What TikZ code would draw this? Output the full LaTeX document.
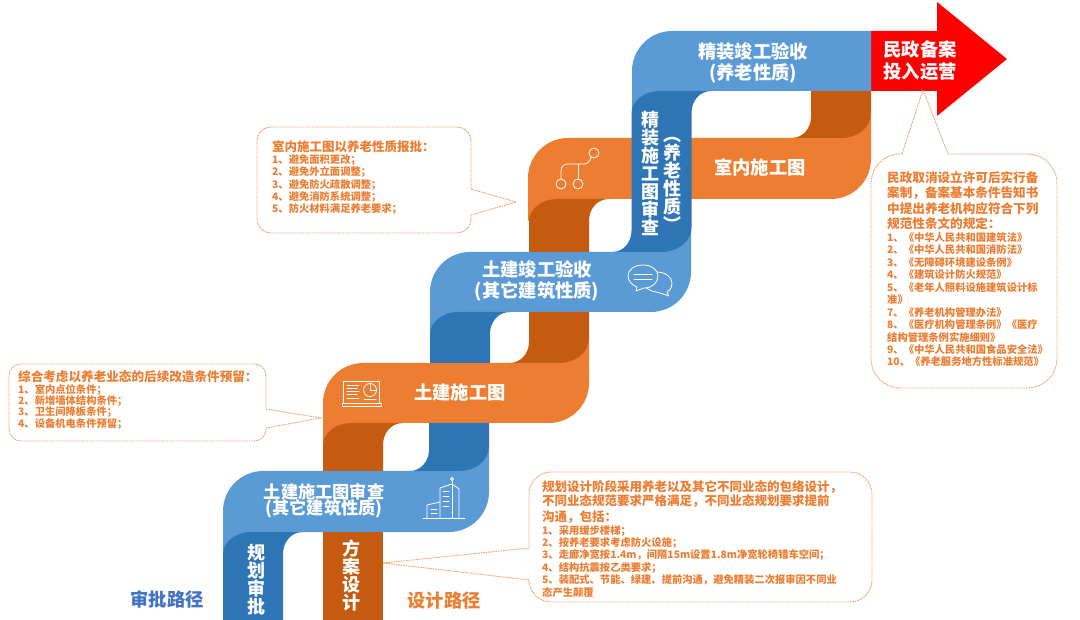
\documentclass[tikz,border=0pt]{standalone}
\usepackage{fontspec}
\setmainfont{Noto Sans CJK SC}
\definecolor{lblue}{HTML}{5B9BD5}
\definecolor{dblue}{HTML}{2E75B6}
\definecolor{lor}{HTML}{ED7D31}
\definecolor{dor}{HTML}{C55A11}
\definecolor{pathblue}{HTML}{4472C4}
\definecolor{dashcol}{HTML}{F2A06E}
\newcommand{\fs}[1]{\fontsize{#1}{#1}\selectfont\bfseries}
% light band: L R T B
\newcommand{\band}[5]{\fill[#1] (#2,#5+22) -- (#2,#4+40) .. controls (#2,#4+18) and (#2+18,#4) .. (#2+40,#4)
  -- (#3-30,#4) -- (#3,#4-25) -- (#3,#5-40) .. controls (#3,#5-18) and (#3-18,#5) .. (#3-40,#5) -- (#2+28,#5) -- cycle;}
% dark segments: colour x yT yB
\newcommand{\segTA}[4]{\fill[#1] (#2,#3+22) .. controls (#2,#3+10) and (#2+13,#3) .. (#2+28,#3) -- (#2+80,#3)
  .. controls (#2+68,#3) and (#2+60,#3+10) .. (#2+60,#3+22) -- (#2+60,#4) -- (#2,#4) -- cycle;}
\newcommand{\segAB}[4]{\fill[#1] (#2,#3) -- (#2+60,#3) -- (#2+60,#4-25) .. controls (#2+60,#4-10) and (#2+46,#4) .. (#2+30,#4)
  -- (#2-19,#4) .. controls (#2-9,#4) and (#2,#4-9) .. (#2,#4-21) -- cycle;}
\newcommand{\segTB}[4]{\fill[#1] (#2,#3+22) .. controls (#2,#3+10) and (#2+13,#3) .. (#2+28,#3) -- (#2+80,#3)
  .. controls (#2+68,#3) and (#2+60,#3+10) .. (#2+60,#3+22) -- (#2+60,#4-25) .. controls (#2+60,#4-10) and (#2+46,#4) .. (#2+30,#4)
  -- (#2-19,#4) .. controls (#2-9,#4) and (#2,#4-9) .. (#2,#4-21) -- cycle;}
\tikzset{
  whitelabel/.style={inner sep=0pt,text=white,align=center,font=\fs{18.3}},
  vertlabel/.style={inner sep=0pt,text=white,align=center,font=\fs{18}},
  calltitle/.style={inner sep=0pt,anchor=west,text=lor,font=\fs{12.5}},
  callitem/.style={inner sep=0pt,anchor=west,text=lor,font=\fs{10.3}},
  callout/.style={draw=dashcol,line width=0.9pt,dash pattern=on 1.6pt off 0.9pt,fill=white},
  icon/.style={draw=white,line width=0.8pt,line cap=round,line join=round},
}
\begin{document}
\begin{tikzpicture}[x=1pt,y=-1pt]
\useasboundingbox (0,0) rectangle (1080,620);
\fill[white] (0,0) rectangle (1080,620);
% arrow
\fill[red] (871,31) -- (937,31) -- (937,2) -- (1007,59) -- (937,116) -- (937,91) -- (871,91) -- cycle;
% bands
\band{lblue}{223}{489}{471}{532}
\band{lor}{323}{589}{363}{423}
\band{lblue}{430}{691}{252}{312}
\band{lor}{528}{871}{138}{199}
\fill[lblue] (632,113) -- (632,71) .. controls (632,49) and (650,31) .. (672,31) -- (871,31) -- (871,91) -- (660,91) -- cycle;
% dark segments
\segTA{dblue}{223}{532}{620}
\fill[dor] (323,532) rectangle (383,620);
\segTA{dor}{323}{423}{471}
\segAB{dblue}{429}{423}{471}
\segTA{dblue}{430}{312}{363}
\segAB{dor}{529}{312}{363}
\segTA{dor}{529}{199}{252}
\segTB{dblue}{631.5}{91}{252}
\segAB{dor}{811}{91}{138}
% band labels
\node[whitelabel] (t1) at (753,52) {精装竣工验收};
\node[whitelabel] (t2) at (753,73) {(养老性质)};
\node[whitelabel] (t3) at (920,50) {民政备案};
\node[whitelabel] (t4) at (920,72) {投入运营};
\node[whitelabel] (t5) at (760,167) {室内施工图};
\node[whitelabel] (t6) at (537,269) {土建竣工验收};
\node[whitelabel] (t7) at (537,291) {(其它建筑性质)};
\node[whitelabel] (t8) at (460,393) {土建施工图};
\node[whitelabel,font=\fs{17.2}] (t9) at (324,492) {土建施工图审查};
\node[whitelabel,font=\fs{17.2}] (t10) at (324,509) {(其它建筑性质)};
\node[vertlabel] (v1) at (650,173.5) {精\\装\\施\\工\\图\\审\\查};
\node[vertlabel] (v2) at (672,184) {︵\\养\\老\\性\\质\\︶};
\node[vertlabel] (v3) at (256,580) {规\\划\\审\\批};
\node[vertlabel] (v4) at (351,575.5) {方\\案\\设\\计};
\node[inner sep=0pt,text=pathblue,font=\fs{18.3}] (p1) at (167,599) {审批路径};
\node[inner sep=0pt,text=lor,font=\fs{18.3}] (p2) at (444,601) {设计路径};
% icon: flow
\draw[icon] (594,153) circle (5) (561,184) circle (5) (578,184) circle (5);
\draw[icon] (578,179) -- (578,164);
\draw[icon] (561,179) -- (561,171) .. controls (561,166) and (564,164) .. (568,164) -- (584,164) .. controls (588,164) and (590,161) .. (591,157);
% icon: chat
\draw[icon] (643,265) .. controls (634,265) and (628,270) .. (628,276) .. controls (628,281) and (632,285) .. (637,287) -- (636,291) -- (644,288) .. controls (652,288) and (658,283) .. (658,276) .. controls (658,270) and (652,265) .. (643,265) -- cycle;
\draw[icon] (634,274) -- (652,274) (634,279) -- (652,279);
\draw[icon] (657,272) .. controls (665,272) and (672,277) .. (672,283) .. controls (672,288) and (669,291) .. (667,292) -- (669,296) -- (660,293) -- (652,291) -- (646,288);
% icon: laptop
\draw[icon] (343,403) -- (343,381) -- (379,381) -- (379,403);
\draw[icon] (342,403) -- (381,403) -- (381,406) -- (342,406) -- cycle;
\draw[icon] (370,390) circle (6.5);
\draw[icon] (370,384) -- (370,390) -- (376,390);
\draw[icon,line width=0.6pt] (347,385) -- (359,385) (347,388) -- (357,388) (347,391) -- (359,391) (347,394) -- (357,394) (347,398) -- (359,398) (364,399) -- (376,399);
% icon: building
\draw[icon] (423,518) -- (465,518);
\draw[icon] (440,518) -- (440,488) -- (452,484) -- (459,489) -- (459,518);
\draw[icon] (452,484) -- (452,518);
\draw[icon] (452,483) -- (452,481);
\draw[icon] (452,479) circle (1.5);
\draw[icon] (427,518) -- (427,505) -- (440,502);
\draw[icon,line width=0.6pt] (443,491) -- (449,491) (443,496) -- (449,496) (443,501) -- (449,501) (443,506) -- (449,506) (431,509) -- (437,509) (431,513) -- (437,513);
% callout 1
\draw[callout] (272,127) -- (456,127) .. controls (465,127) and (471,133) .. (471,142) -- (471,189) -- (516,202) -- (471,215) -- (471,218) .. controls (471,227) and (465,233) .. (456,233) -- (272,233) .. controls (263,233) and (257,227) .. (257,218) -- (257,142) .. controls (257,133) and (263,127) .. (272,127) -- cycle;
\node[calltitle] (c1t) at (272,147) {室内施工图以养老性质报批：};
\foreach \y/\s [count=\i] in {160/1、避免面积更改；,172/2、避免外立面调整；,184.5/3、避免防火疏散调整；,197/4、避免消防系统调整；,209.5/5、防火材料满足养老要求；}
  \node[callitem] (c1i\i) at (272,\y) {\s};
% callout 2
\draw[callout] (900,154) -- (902,154) -- (923,90) -- (948,154) -- (1027,154) .. controls (1044,154) and (1057,167) .. (1057,184) -- (1057,358) .. controls (1057,375) and (1044,388) .. (1027,388) -- (901,388) .. controls (884,388) and (871,375) .. (871,358) -- (871,184) .. controls (871,167) and (884,154) .. (900,154) -- cycle;
\foreach \y/\s [count=\i] in {178/民政取消设立许可后实行备,193/案制，备案基本条件告知书,209/中提出养老机构应符合下列,224/规范性条文的规定：}
  \node[calltitle,font=\fs{12.6}] (c2t\i) at (887,\y) {\s};
\foreach \y/\s [count=\i] in {238/1、《中华人民共和国建筑法》,250/2、《中华人民共和国消防法》,263/3、《无障碍环境建设条例》,275/4、《建筑设计防火规范》,288/5、《老年人照料设施建筑设计标,300/准》,313/7、《养老机构管理办法》,325/8、《医疗机构管理条例》《医疗,338/结构管理条例实施细则》,350/9、《中华人民共和国食品安全法》,362/10、《养老服务地方性标准规范》}
  \node[callitem] (c2i\i) at (887,\y) {\s};
% callout 3
\draw[callout] (21,364) -- (254,364) .. controls (261,364) and (266,369) .. (266,376) -- (266,409) -- (321,418) -- (266,428) -- (266,429) .. controls (266,436) and (261,441) .. (254,441) -- (21,441) .. controls (14,441) and (9,436) .. (9,429) -- (9,376) .. controls (9,369) and (14,364) .. (21,364) -- cycle;
\node[calltitle,font=\fs{12.6}] (c3t) at (18,377) {综合考虑以养老业态的后续改造条件预留：};
\foreach \y/\s [count=\i] in {390/1、室内点位条件；,401/2、新增墙体结构条件；,412/3、卫生间降板条件；,424/4、设备机电条件预留；}
  \node[callitem] (c3i\i) at (18,\y) {\s};
% callout 4
\draw[callout] (551,472) -- (850,472) .. controls (862,472) and (872,482) .. (872,494) -- (872,580) .. controls (872,592) and (862,602) .. (850,602) -- (551,602) .. controls (539,602) and (529,592) .. (529,580) -- (383,563) -- (529,548) -- (529,494) .. controls (529,482) and (539,472) .. (551,472) -- cycle;
\foreach \y/\s [count=\i] in {487/规划设计阶段采用养老以及其它不同业态的包络设计，,501/不同业态规范要求严格满足，不同业态规划要求提前,517/沟通，包括：}
  \node[calltitle] (c4t\i) at (542,\y) {\s};
\foreach \y/\s [count=\i] in {531/1、采用缓步楼梯；,543/2、按养老要求考虑防火设施；,555/3、走廊净宽按1.4m，间隔15m设置1.8m净宽轮椅错车空间；,568/4、结构抗震按乙类要求；,580/5、装配式、节能、绿建、提前沟通，避免精装二次报审因不同业,593/态产生颠覆}
  \node[callitem] (c4i\i) at (542,\y) {\s};
\end{tikzpicture}
\end{document}
